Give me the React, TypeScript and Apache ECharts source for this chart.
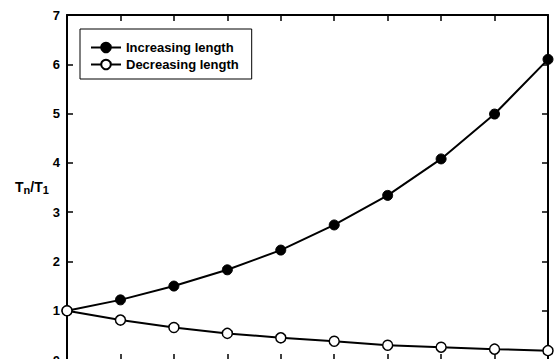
import React, { useEffect, useRef } from "react";
import * as echarts from "echarts";

const steps = [0, 1, 2, 3, 4, 5, 6, 7, 8, 9];
const increasing = [1.0, 1.22, 1.5, 1.83, 2.23, 2.74, 3.34, 4.08, 4.99, 6.1];
const decreasing = [1.0, 0.81, 0.66, 0.54, 0.45, 0.38, 0.3, 0.26, 0.22, 0.19];
const yTicks = [0, 1, 2, 3, 4, 5, 6, 7];
const seriesNames = ["Increasing length", "Decreasing length"];

const FONT = "Liberation Sans, Arial, Helvetica, sans-serif";

export default function App() {
  const ref = useRef<HTMLDivElement>(null);
  useEffect(() => {
    if (!ref.current) return;
    const chart = echarts.init(ref.current, null, { renderer: "svg" });
    const axisLine = { show: true, onZero: false, lineStyle: { color: "#000", width: 2 } };
    const tick = { show: true, inside: true, length: 6, lineStyle: { color: "#000", width: 1.5 } };
    chart.setOption({
      animation: false,
      backgroundColor: "#fff",
      grid: { left: 67, top: 15, width: 481, height: 345, containLabel: false },
      xAxis: [
        {
          type: "value", min: 0, max: 9, interval: 1, position: "bottom",
          axisLine, axisTick: tick, splitLine: { show: false }, axisLabel: { show: false },
        },
        {
          type: "value", min: 0, max: 9, interval: 1, position: "top",
          axisLine, axisTick: tick, splitLine: { show: false }, axisLabel: { show: false },
        },
      ],
      yAxis: [
        {
          type: "value", min: yTicks[0], max: yTicks[yTicks.length - 1], interval: 1, position: "left",
          axisLine, axisTick: tick, splitLine: { show: false },
          axisLabel: { show: true, color: "#000", fontFamily: FONT, fontWeight: "bold", fontSize: 13, margin: 7 },
        },
        {
          type: "value", min: yTicks[0], max: yTicks[yTicks.length - 1], interval: 1, position: "right",
          axisLine, axisTick: tick, splitLine: { show: false }, axisLabel: { show: false },
        },
      ],
      legend: {
        orient: "vertical", left: 80, top: 29,
        padding: [12, 13, 8, 10], itemGap: 4, itemWidth: 30, itemHeight: 12,
        borderColor: "#000", borderWidth: 1, backgroundColor: "#fff",
        textStyle: { color: "#000", fontFamily: FONT, fontWeight: "bold", fontSize: 13 },
        data: seriesNames,
      },
      graphic: [
        {
          type: "text", left: 15, top: 180,
          style: {
            text: "{a|T}{b|n}{a|/T}{b|1}",
            rich: {
              a: { fontFamily: FONT, fontSize: 14, fill: "#000", fontWeight: "bold" },
              b: { fontFamily: FONT, fontSize: 11, fill: "#000", fontWeight: "bold", verticalAlign: "bottom", padding: [6, 0, 0, 0] },
            },
          },
        },
      ],
      series: [
        {
          name: seriesNames[0], type: "line",
          data: steps.map((s, i) => [s, increasing[i]]),
          symbol: "circle", symbolSize: 10,
          lineStyle: { color: "#000", width: 2 },
          itemStyle: { color: "#000", borderColor: "#000", borderWidth: 1 },
        },
        {
          name: seriesNames[1], type: "line",
          data: steps.map((s, i) => [s, decreasing[i]]),
          symbol: "circle", symbolSize: 10,
          lineStyle: { color: "#000", width: 2 },
          itemStyle: { color: "#fff", borderColor: "#000", borderWidth: 1.5 },
        },
      ],
    });
    return () => chart.dispose();
  }, []);
  return (
    <div style={{ position: "absolute", left: 0, top: 0, width: 556, height: 359, overflow: "hidden", background: "#fff" }}>
      <div ref={ref} style={{ width: 556, height: 420 }} />
    </div>
  );
}
